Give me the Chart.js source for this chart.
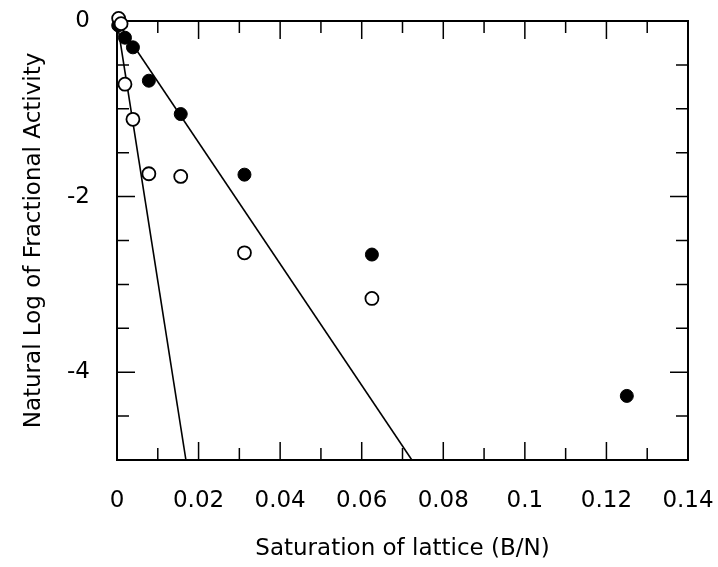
<!DOCTYPE html>
<html lang="en">
<head>
<meta charset="UTF-8" />
<title>Natural Log of Fractional Activity</title>
<script src="https://cdn.jsdelivr.net/npm/chart.js"></script>
<style>
  body { margin: 0; background: #fff; }
  #wrap { width: 718px; height: 567px; position: relative; }
</style>
</head>
<body>
<div id="wrap"><canvas id="chart"></canvas></div>
<script>
// filled circles
const filledX = [0.0003, 1 / 512, 1 / 256, 1 / 128, 1 / 64, 1 / 32, 1 / 16, 1 / 8];
const filledY = [-0.05, -0.19, -0.30, -0.68, -1.06, -1.75, -2.66, -4.27];
// open circles
const openX = [0.0004, 0.001, 1 / 512, 1 / 256, 1 / 128, 1 / 64, 1 / 32, 1 / 16];
const openY = [0.03, -0.03, -0.72, -1.12, -1.74, -1.77, -2.64, -3.16];
// straight lines
const steepX = [0, 0.0169];
const steepY = [0, -5];
const shallowX = [0, 0.0723];
const shallowY = [0, -5];

const xLabels = [0, 0.02, 0.04, 0.06, 0.08, 0.1, 0.12, 0.14];
const xMinor = [0.01, 0.03, 0.05, 0.07, 0.09, 0.11, 0.13];
const yLabels = [0, -2, -4];
const yMinor = [-0.5, -1, -1.5, -2.5, -3, -3.5, -4.5];

const pts = (xs, ys) => xs.map((x, i) => ({ x: x, y: ys[i] }));
const FONT = '"DejaVu Sans", sans-serif';

// box round the plot with inward ticks on all four sides
const frame = {
    id: 'frame',
    beforeDatasetsDraw(chart) {
        const { ctx, chartArea: a, scales } = chart;
        ctx.save();
        ctx.strokeStyle = '#000';
        ctx.lineWidth = 1.5;
        ctx.beginPath();
        const xt = (v, len) => {
            const p = scales.x.getPixelForValue(v);
            ctx.moveTo(p, a.bottom); ctx.lineTo(p, a.bottom - len);
            ctx.moveTo(p, a.top); ctx.lineTo(p, a.top + len);
        };
        const yt = (v, len) => {
            const p = scales.y.getPixelForValue(v);
            ctx.moveTo(a.left, p); ctx.lineTo(a.left + len, p);
            ctx.moveTo(a.right, p); ctx.lineTo(a.right - len, p);
        };
        xLabels.forEach((v) => xt(v, 18));
        xMinor.forEach((v) => xt(v, 12));
        yLabels.forEach((v) => yt(v, 18));
        yMinor.forEach((v) => yt(v, 12));
        ctx.stroke();
        ctx.lineWidth = 2;
        ctx.strokeRect(a.left, a.top, a.right - a.left, a.bottom - a.top);
        ctx.restore();
    },
};

const noPad = (s) => {
    s.paddingLeft = 0;
    s.paddingRight = 0;
    s.paddingTop = 0;
    s.paddingBottom = 0;
};

new Chart(document.getElementById('chart'), {
    type: 'scatter',
    data: {
        datasets: [
            {
                data: pts(openX, openY),
                pointRadius: 6.5,
                pointBackgroundColor: '#fff',
                pointBorderColor: '#000',
                pointBorderWidth: 1.8,
                clip: false,
                order: 0,
            },
            {
                data: pts(filledX, filledY),
                pointRadius: 6.5,
                pointBackgroundColor: '#000',
                pointBorderColor: '#000',
                pointBorderWidth: 1,
                clip: false,
                order: 1,
            },
            {
                data: pts(steepX, steepY),
                showLine: true,
                pointRadius: 0,
                borderColor: '#000',
                borderWidth: 1.6,
                order: 2,
            },
            {
                data: pts(shallowX, shallowY),
                showLine: true,
                pointRadius: 0,
                borderColor: '#000',
                borderWidth: 1.6,
                order: 3,
            },
        ],
    },
    options: {
        responsive: true,
        maintainAspectRatio: false,
        animation: false,
        layout: { autoPadding: false, padding: { left: 0, top: 21, right: 30, bottom: 0 } },
        plugins: { legend: { display: false }, tooltip: { enabled: false } },
        scales: {
            x: {
                type: 'linear',
                min: 0,
                max: 0.14,
                grid: { display: false, drawTicks: false },
                border: { display: false },
                afterBuildTicks: (s) => { s.ticks = xLabels.map((v) => ({ value: v })); },
                afterFit: (s) => { s.height = 107; noPad(s); },
                ticks: {
                    padding: 27,
                    color: '#000',
                    font: { family: FONT, size: 23 },
                    callback: (v) => String(v),
                },
                title: {
                    display: true,
                    text: 'Saturation of lattice (B/N)',
                    color: '#000',
                    font: { family: FONT, size: 23 },
                    padding: { top: 0, bottom: 4 },
                },
            },
            y: {
                type: 'linear',
                min: -5,
                max: 0,
                grid: { display: false, drawTicks: false },
                border: { display: false },
                afterBuildTicks: (s) => { s.ticks = yLabels.map((v) => ({ value: v })); },
                afterFit: (s) => { s.width = 117; noPad(s); },
                ticks: {
                    padding: 27,
                    color: '#000',
                    font: { family: FONT, size: 23 },
                    callback: (v) => String(v),
                },
                title: {
                    display: true,
                    text: 'Natural Log of Fractional Activity',
                    color: '#000',
                    font: { family: FONT, size: 23 },
                    padding: { top: 20, bottom: 0 },
                },
            },
        },
    },
    plugins: [frame],
});
</script>
</body>
</html>
